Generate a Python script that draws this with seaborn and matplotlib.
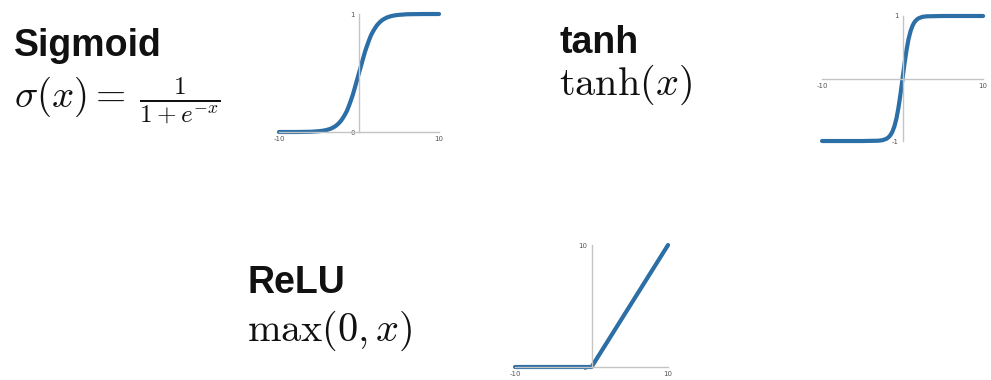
import numpy as np
import matplotlib
matplotlib.use("Agg")
import matplotlib.pyplot as plt
import seaborn as sns

# values
sig_x = [-10, -8, -6, -5, -4.5, -4, -3.5, -3, -2.75, -2.5, -2.25, -2, -1.75, -1.5,
         -1.25, -1, -0.75, -0.5, -0.25, 0, 0.25, 0.5, 0.75, 1, 1.25, 1.5, 1.75,
         2, 2.25, 2.5, 2.75, 3, 3.5, 4, 4.5, 5, 6, 8, 10]
sig_y = [0.0, 0.0, 0.002, 0.007, 0.011, 0.018, 0.029, 0.047, 0.06, 0.076, 0.095,
         0.12, 0.148, 0.18, 0.223, 0.27, 0.32, 0.38, 0.44, 0.5, 0.56, 0.62, 0.68,
         0.73, 0.777, 0.82, 0.852, 0.88, 0.905, 0.924, 0.94, 0.953, 0.971, 0.982,
         0.989, 0.993, 0.998, 1.0, 1.0]

tanh_x = [-10, -5, -3, -2.5, -2, -1.75, -1.5, -1.25, -1, -0.75, -0.5, -0.25, 0,
          0.25, 0.5, 0.75, 1, 1.25, 1.5, 1.75, 2, 2.5, 3, 5, 10]
tanh_y = [-1.0, -1.0, -0.995, -0.987, -0.964, -0.941, -0.905, -0.848, -0.76,
          -0.635, -0.46, -0.245, 0.0, 0.245, 0.46, 0.635, 0.76, 0.848, 0.905,
          0.941, 0.964, 0.987, 0.995, 1.0, 1.0]

relu_x = [-10, 0, 10]
relu_y = [0, 0, 10]

titles = ["Sigmoid", "tanh", "ReLU"]
formulas = [r"$\sigma(x) =$", r"$\tanh(x)$", r"$\max(0, x)$"]
sig_frac = r"$\frac{1}{1+e^{-x}}$"

sns.set_style("white")
plt.rcParams["mathtext.fontset"] = "cm"

LINE = "#2c6ea6"
SPINE = "#c4c4c4"
TICK = "#555555"

fig = plt.figure(figsize=(9.91, 3.8), dpi=100)


def func_axes(rect, xs, ys, ylim, yticks):
    ax = fig.add_axes(rect)
    sns.lineplot(x=xs, y=ys, ax=ax, color=LINE, linewidth=3, clip_on=False)
    ax.set_xlim(-10, 10)
    ax.set_ylim(*ylim)
    ax.spines["left"].set_position("zero")
    ax.spines["bottom"].set_position("zero")
    ax.spines["right"].set_visible(False)
    ax.spines["top"].set_visible(False)
    for s in ("left", "bottom"):
        ax.spines[s].set_color(SPINE)
        ax.spines[s].set_linewidth(1)
    ax.set_xticks([-10, 10])
    ax.set_yticks(yticks)
    ax.set_xticklabels([str(v) for v in [-10, 10]])
    ax.set_yticklabels([str(v) for v in yticks])
    ax.tick_params(labelsize=5, colors=SPINE, labelcolor=TICK, length=2, width=0.8, pad=1)
    ax.patch.set_alpha(0)
    return ax


func_axes([0.2815, 0.6526, 0.1615, 0.3105], sig_x, sig_y, (0, 1), [0, 1])
func_axes([0.8295, 0.6289, 0.1625, 0.329], tanh_x, tanh_y, (-1, 1), [-1, 1])
func_axes([0.5197, 0.0342, 0.1544, 0.321], relu_x, relu_y, (0, 10), [0, 10])

bold = dict(fontsize=27, fontweight="bold", family="Liberation Sans", color="#111111")
math = dict(fontsize=29, color="#111111")

fig.text(14 / 991, 1 - 56 / 380, titles[0], **bold)
fig.text(14 / 991, 1 - 107 / 380, formulas[0], fontsize=28, color="#111111")
fig.text(139 / 991, 1 - 107 / 380, sig_frac, fontsize=26, color="#111111")
fig.text(559 / 991, 1 - 53 / 380, titles[1], **bold)
fig.text(559 / 991, 1 - 95 / 380, formulas[1], **math)
fig.text(247 / 991, 1 - 293 / 380, titles[2], **bold)
fig.text(247 / 991, 1 - 341 / 380, formulas[2], **math)

fig.savefig("out.png", dpi=100)
